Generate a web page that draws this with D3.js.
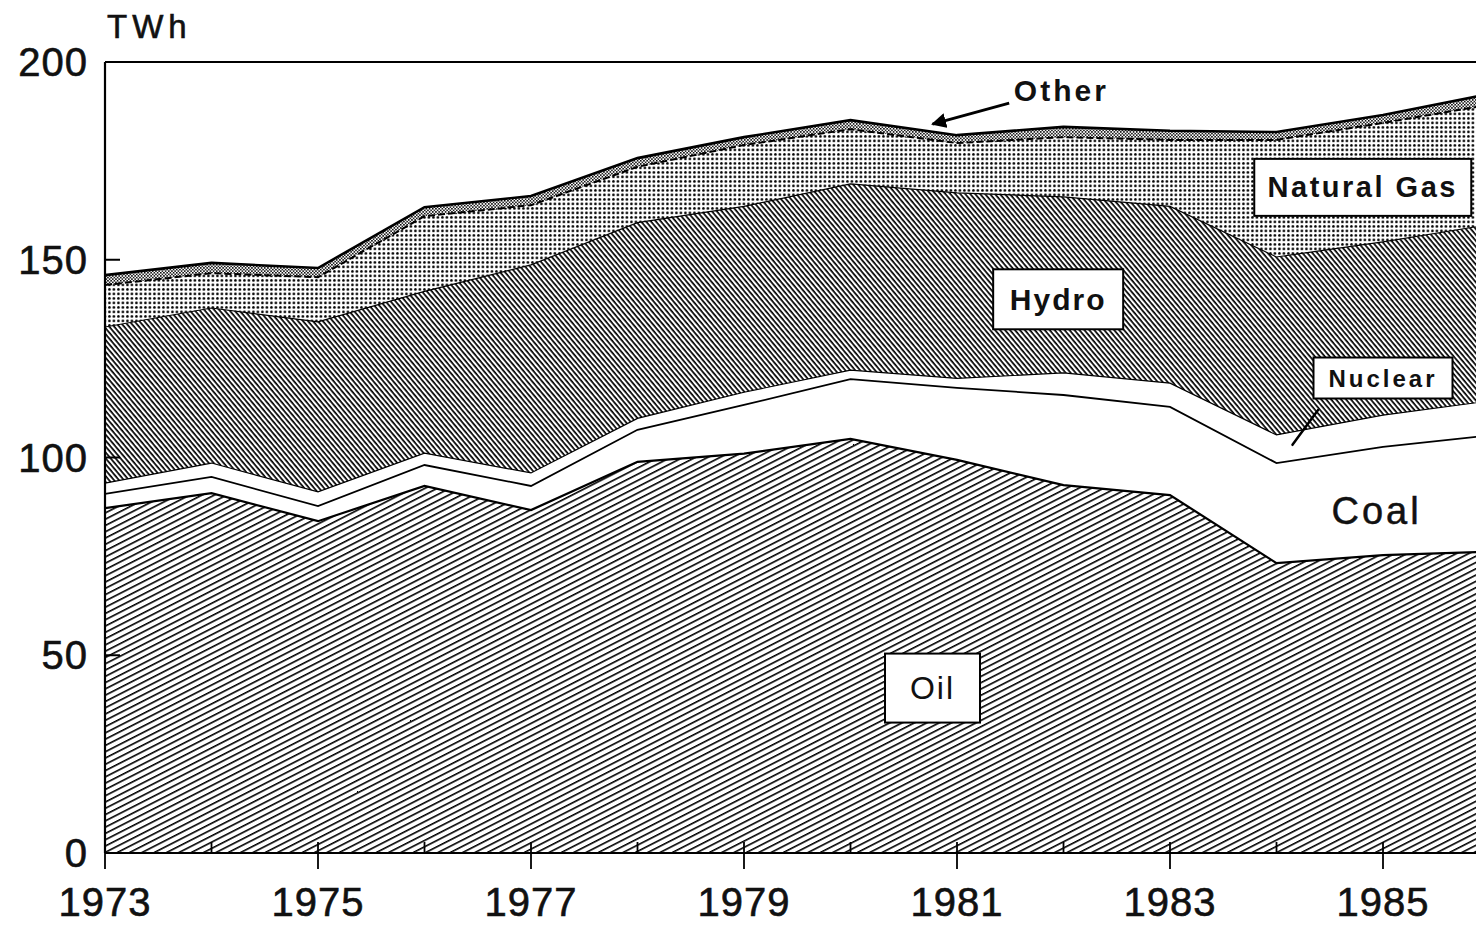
<!DOCTYPE html>
<html>
<head>
<meta charset="utf-8">
<script src="https://cdn.jsdelivr.net/npm/d3@7"></script>
<style>
    body { margin: 0; background: #fff; }
    text { font-family: 'Liberation Sans', Arial, sans-serif; fill: #111; }
</style>
</head>
<body>
<div id="chart"></div>
<script>
// generation by source, TWh
const years = [1973, 1974, 1975, 1976, 1977, 1978, 1979, 1980, 1981, 1982, 1983, 1984, 1985, 1986];
const oil = [87.2, 91.0, 83.9, 92.8, 86.7, 98.9, 101.0, 104.7, 99.4, 93.0, 90.5, 73.3, 75.3, 76.2];
const coal = [3.6, 4.1, 3.8, 5.3, 6.1, 8.1, 12.3, 15.1, 18.2, 22.8, 22.3, 25.3, 27.4, 29.4];
const nuclear = [2.7, 3.5, 3.6, 3.0, 3.3, 2.9, 3.2, 2.3, 2.4, 5.6, 6.0, 7.1, 8.0, 8.7];
const hydro = [39.5, 39.2, 43.0, 40.9, 52.6, 49.5, 47.0, 47.1, 46.9, 44.5, 44.7, 45.0, 43.8, 44.6];
const gas = [10.6, 8.8, 11.3, 19.0, 15.1, 14.1, 15.5, 13.8, 12.6, 15.1, 16.8, 29.6, 30.1, 30.3];
const other = [2.5, 2.6, 2.3, 2.3, 2.3, 2.2, 2.0, 2.3, 2.0, 2.6, 2.3, 2.0, 2.0, 2.7];

const keys = ['oil', 'coal', 'nuclear', 'hydro', 'gas', 'other'];
const yTicks = [0, 50, 100, 150, 200];
const xLabelYears = [1973, 1975, 1977, 1979, 1981, 1983, 1985];

const width = 1476;
const height = 925;
const margin = { top: 62, left: 105, bottom: 72 };
const chartHeight = height - margin.top - margin.bottom;

const rows = years.map((yr, i) => ({
    year: yr, oil: oil[i], coal: coal[i], nuclear: nuclear[i],
    hydro: hydro[i], gas: gas[i], other: other[i]
}));

const svg = d3.select('#chart').append('svg')
    .attr('width', width)
    .attr('height', height);

const xScale = d3.scaleLinear()
    .domain([1973, 1986])
    .range([margin.left, margin.left + 13 * 106.5]);

const yScale = d3.scaleLinear()
    .domain([0, 200])
    .range([margin.top + chartHeight, margin.top]);

// fill patterns, imitating the printed screens
const defs = svg.append('defs');

const oilPat = defs.append('pattern')
    .attr('id', 'oilHatch')
    .attr('patternUnits', 'userSpaceOnUse')
    .attr('width', 12).attr('height', 5.6)
    .attr('patternTransform', 'rotate(-27)');
oilPat.append('rect').attr('width', 12).attr('height', 5.6).attr('fill', '#fff');
oilPat.append('rect').attr('width', 12).attr('height', 1.6).attr('fill', '#000');

const hydroPat = defs.append('pattern')
    .attr('id', 'hydroHatch')
    .attr('patternUnits', 'userSpaceOnUse')
    .attr('width', 10).attr('height', 3.8)
    .attr('patternTransform', 'rotate(50)');
hydroPat.append('rect').attr('width', 10).attr('height', 3.8).attr('fill', '#fff');
hydroPat.append('rect').attr('width', 10).attr('height', 1.7).attr('fill', '#000');

const gasPat = defs.append('pattern')
    .attr('id', 'gasDots')
    .attr('patternUnits', 'userSpaceOnUse')
    .attr('width', 4.5).attr('height', 4.5);
gasPat.append('rect').attr('width', 4.5).attr('height', 4.5).attr('fill', '#fff');
gasPat.append('circle').attr('cx', 1.4).attr('cy', 1.4).attr('r', 1.35).attr('fill', '#000');

const otherPat = defs.append('pattern')
    .attr('id', 'otherDots')
    .attr('patternUnits', 'userSpaceOnUse')
    .attr('width', 3.2).attr('height', 3.2);
otherPat.append('rect').attr('width', 3.2).attr('height', 3.2).attr('fill', '#fff');
otherPat.append('rect').attr('width', 1.5).attr('height', 1.5).attr('fill', '#000');
otherPat.append('rect').attr('x', 1.6).attr('y', 1.6).attr('width', 1.5).attr('height', 1.5).attr('fill', '#000');

const fills = {
    oil: 'url(#oilHatch)', coal: '#fff', nuclear: '#fff',
    hydro: 'url(#hydroHatch)', gas: 'url(#gasDots)', other: 'url(#otherDots)'
};

defs.append('clipPath').attr('id', 'plotClip')
    .append('rect')
    .attr('x', margin.left).attr('y', margin.top)
    .attr('width', width - margin.left).attr('height', chartHeight);

const stacked = d3.stack().keys(keys)(rows);

const area = d3.area()
    .x(d => xScale(d.data.year))
    .y0(d => yScale(d[0]))
    .y1(d => yScale(d[1]));

const topLine = d3.line()
    .x(d => xScale(d.data.year))
    .y(d => yScale(d[1]));

const plot = svg.append('g').attr('clip-path', 'url(#plotClip)');

plot.selectAll('path.layer')
    .data(stacked)
    .enter()
    .append('path')
    .attr('class', 'layer')
    .attr('d', area)
    .attr('fill', d => fills[d.key]);

// boundary lines on top of each band
const edgeStyle = {
    oil: { w: 2.2, dash: null },
    coal: { w: 1.8, dash: null },
    nuclear: { w: 1.2, dash: null },
    hydro: { w: 1.2, dash: null },
    gas: { w: 2, dash: '7,3' },
    other: { w: 2.6, dash: null }
};
plot.selectAll('path.edge')
    .data(stacked)
    .enter()
    .append('path')
    .attr('class', 'edge')
    .attr('d', topLine)
    .attr('fill', 'none')
    .attr('stroke', '#000')
    .attr('stroke-width', d => edgeStyle[d.key].w)
    .attr('stroke-dasharray', d => edgeStyle[d.key].dash);

// frame: left axis, top border, bottom axis
svg.append('line')
    .attr('x1', margin.left).attr('x2', margin.left)
    .attr('y1', yScale(200)).attr('y2', yScale(0))
    .attr('stroke', '#000').attr('stroke-width', 2.2);
svg.append('line')
    .attr('x1', margin.left).attr('x2', width)
    .attr('y1', yScale(200)).attr('y2', yScale(200))
    .attr('stroke', '#000').attr('stroke-width', 2.2);
svg.append('line')
    .attr('x1', margin.left).attr('x2', width)
    .attr('y1', yScale(0)).attr('y2', yScale(0))
    .attr('stroke', '#000').attr('stroke-width', 2.2);

// y ticks and labels
svg.selectAll('line.ytick')
    .data(yTicks.filter(v => v > 0 && v < 200))
    .enter()
    .append('line')
    .attr('class', 'ytick')
    .attr('x1', margin.left).attr('x2', margin.left + 15)
    .attr('y1', d => yScale(d)).attr('y2', d => yScale(d))
    .attr('stroke', '#000').attr('stroke-width', 2);

svg.selectAll('text.ylab')
    .data(yTicks)
    .enter()
    .append('text')
    .attr('class', 'ylab')
    .attr('x', 88)
    .attr('y', d => yScale(d) + 14)
    .attr('text-anchor', 'end')
    .style('font-size', '40px')
    .style('letter-spacing', '1px')
    .style('stroke', '#111').style('stroke-width', 0.6)
    .text(d => d);

svg.append('text')
    .attr('x', 107).attr('y', 38)
    .style('font-size', '33px')
    .style('letter-spacing', '5px')
    .style('stroke', '#111').style('stroke-width', 0.6)
    .text('TWh');

// x ticks: long at labelled years, short in between
svg.selectAll('line.xtick')
    .data(years.filter(yr => yr < 1986))
    .enter()
    .append('line')
    .attr('class', 'xtick')
    .attr('x1', d => xScale(d)).attr('x2', d => xScale(d))
    .attr('y1', yScale(0) - 11)
    .attr('y2', d => xLabelYears.includes(d) ? yScale(0) + 16 : yScale(0))
    .attr('stroke', '#000').attr('stroke-width', 1.8);

svg.selectAll('text.xlab')
    .data(xLabelYears)
    .enter()
    .append('text')
    .attr('class', 'xlab')
    .attr('x', d => xScale(d))
    .attr('y', 916)
    .attr('text-anchor', 'middle')
    .style('font-size', '40px')
    .style('letter-spacing', '1px')
    .style('stroke', '#111').style('stroke-width', 0.6)
    .text(d => d);

// boxed labels
function boxedLabel(txt, cx, cy, w, h, size, weight, spacing) {
    const g = svg.append('g');
    g.append('rect')
        .attr('x', xScale(cx) - w / 2).attr('y', yScale(cy) - h / 2)
        .attr('width', w).attr('height', h)
        .attr('fill', '#fff').attr('stroke', '#000').attr('stroke-width', 2);
    g.append('text')
        .attr('x', xScale(cx)).attr('y', yScale(cy))
        .attr('text-anchor', 'middle')
        .attr('dominant-baseline', 'central')
        .style('font-size', size + 'px')
        .style('font-weight', weight)
        .style('letter-spacing', spacing + 'px')
        .text(txt);
}

boxedLabel('Oil', 1980.77, 41.7, 95, 69, 32, 'normal', 2);
boxedLabel('Hydro', 1981.95, 140, 130, 60, 30, 'bold', 2);
boxedLabel('Natural Gas', 1984.81, 168.3, 217, 57, 29, 'bold', 2.5);
boxedLabel('Nuclear', 1985.0, 120.1, 139, 41, 24, 'bold', 3);

svg.append('text')
    .attr('x', xScale(1984.94)).attr('y', yScale(86.5))
    .attr('text-anchor', 'middle')
    .attr('dominant-baseline', 'central')
    .style('font-size', '38px')
    .style('letter-spacing', '3px')
    .style('stroke', '#111').style('stroke-width', 0.5)
    .text('Coal');

svg.append('text')
    .attr('x', xScale(1981.98)).attr('y', yScale(192.9))
    .attr('text-anchor', 'middle')
    .attr('dominant-baseline', 'central')
    .style('font-size', '30px')
    .style('font-weight', 'bold')
    .style('letter-spacing', '3px')
    .text('Other');

// pointer to the Other band
defs.append('marker')
    .attr('id', 'arrowHead')
    .attr('viewBox', '0 0 10 10')
    .attr('refX', 9).attr('refY', 5)
    .attr('markerWidth', 5).attr('markerHeight', 5)
    .attr('orient', 'auto')
    .append('path')
    .attr('d', 'M0,0 L10,5 L0,10 z')
    .attr('fill', '#000');

svg.append('line')
    .attr('x1', xScale(1981.49)).attr('y1', yScale(189.6))
    .attr('x2', xScale(1980.77)).attr('y2', yScale(184.3))
    .attr('stroke', '#000').attr('stroke-width', 3)
    .attr('marker-end', 'url(#arrowHead)');

// pointer to the Nuclear band
svg.append('line')
    .attr('x1', xScale(1984.39)).attr('y1', yScale(112))
    .attr('x2', xScale(1984.15)).attr('y2', yScale(103.2))
    .attr('stroke', '#000').attr('stroke-width', 2.5)
    .attr('stroke-linecap', 'round');
</script>
</body>
</html>
